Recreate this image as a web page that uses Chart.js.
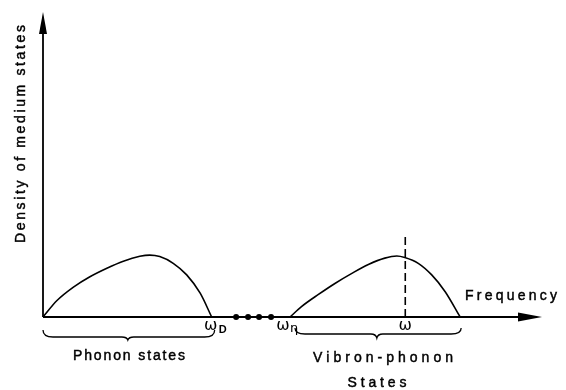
<!DOCTYPE html>
<html>
<head>
<meta charset="utf-8">
<script src="https://cdn.jsdelivr.net/npm/chart.js@4.4.1/dist/chart.umd.min.js"></script>
<style>
  html, body { margin: 0; padding: 0; background: #fff; }
  canvas { display: block; }
</style>
</head>
<body>
<canvas id="canvas" width="566" height="390"></canvas>
<script>
// frequency (arbitrary units, 0..100) and density (0..100)
var phononFreq = [0, 2.8, 6.1, 9.4, 12.8, 16.1, 19.4, 21.4, 23.4, 26.1, 28.8, 31.5, 33.8];
var phononDens = [0, 5.4, 9.8, 13.2, 16.0, 18.3, 19.9, 20.3, 19.8, 17.6, 13.8, 7.8, 0];

var vibronFreq = [49.5, 51.8, 55.2, 58.5, 61.9, 65.2, 68.5, 70.9, 72.5, 75.2, 77.9, 80.6, 83.6];
var vibronDens = [0, 3.4, 7.4, 11.0, 14.3, 17.2, 19.3, 20.0, 19.5, 17.6, 13.8, 8.3, 0];

var omegaFreq = 72.6;          // dashed marker
var omegaTop = 26.6;
var gapDots = [38.7, 41.1, 43.3, 45.7];

var axisTitleX = 'Frequency';
var axisTitleY = 'Density of medium states';
var phononLabel = ['Phonon states'];
var vibronLabel = ['Vibron-phonon', 'States'];

// brace ranges [start, tip, end] along frequency
var phononBrace = [0, 17.0, 34.4];
var vibronBrace = [50.5, 66.9, 83.8];

function pts(xs, ys) {
  return xs.map(function (x, i) { return { x: x, y: ys[i] }; });
}

// draw text with the wide letter spacing of the original lettering
function spaced(ctx, text, cx, y, width) {
  var chars = text.split('');
  var w = chars.map(function (c) { return ctx.measureText(c).width; });
  var sum = w.reduce(function (a, b) { return a + b; }, 0);
  var gap = chars.length > 1 ? (width - sum) / (chars.length - 1) : 0;
  var x = cx - width / 2;
  ctx.textAlign = 'left';
  for (var i = 0; i < chars.length; i++) {
    ctx.fillText(chars[i], x, y);
    ctx.strokeText(chars[i], x, y);
    x += w[i] + gap;
  }
}

function brace(ctx, x1, xt, x2, yTop, yLine, yTip) {
  var r = 5;
  ctx.beginPath();
  ctx.moveTo(x1, yTop);
  ctx.quadraticCurveTo(x1, yLine, x1 + r * 2, yLine);
  ctx.lineTo(xt - 6, yLine);
  ctx.quadraticCurveTo(xt - 1, yLine, xt, yTip);
  ctx.quadraticCurveTo(xt + 1, yLine, xt + 6, yLine);
  ctx.lineTo(x2 - r * 2, yLine);
  ctx.quadraticCurveTo(x2, yLine, x2, yTop);
  ctx.stroke();
}

var decor = {
  id: 'decor',
  beforeDatasetsDraw: function (chart) {
    var ctx = chart.ctx;
    var xs = chart.scales.x, ys = chart.scales.y;
    var x0 = xs.getPixelForValue(0), y0 = ys.getPixelForValue(0);
    var yMax = ys.getPixelForValue(100), xMax = xs.getPixelForValue(100);
    ctx.save();
    ctx.strokeStyle = '#000';
    ctx.fillStyle = '#000';
    ctx.lineWidth = 1.8;
    // axes
    ctx.beginPath();
    ctx.moveTo(x0, y0);
    ctx.lineTo(x0, yMax + 18);
    ctx.moveTo(x0, y0);
    ctx.lineTo(xMax - 20, y0);
    ctx.stroke();
    ctx.beginPath();
    ctx.moveTo(x0, yMax);
    ctx.lineTo(x0 - 4, yMax + 22);
    ctx.lineTo(x0 + 4, yMax + 22);
    ctx.closePath();
    ctx.fill();
    ctx.beginPath();
    ctx.moveTo(xMax, y0);
    ctx.lineTo(xMax - 24, y0 - 4.5);
    ctx.lineTo(xMax - 24, y0 + 4.5);
    ctx.closePath();
    ctx.fill();
    ctx.restore();
  },
  afterDraw: function (chart) {
    var ctx = chart.ctx;
    var xs = chart.scales.x, ys = chart.scales.y;
    var y0 = ys.getPixelForValue(0);
    var px = function (v) { return xs.getPixelForValue(v); };
    ctx.save();
    ctx.fillStyle = '#000';
    ctx.strokeStyle = '#000';
    ctx.textBaseline = 'alphabetic';

    // braces
    ctx.lineWidth = 1.3;
    brace(ctx, px(phononBrace[0]), px(phononBrace[1]), px(phononBrace[2]), y0 + 13, y0 + 20, y0 + 23);
    brace(ctx, px(vibronBrace[0]), px(vibronBrace[1]), px(vibronBrace[2]), y0 + 11, y0 + 17, y0 + 21);

    // axis titles and region labels
    ctx.lineWidth = 0.45;
    ctx.font = '14px "Liberation Sans", Arial, sans-serif';
    spaced(ctx, axisTitleX, 511, y0 - 17, 92);
    spaced(ctx, phononLabel[0], 129, y0 + 43, 112);
    spaced(ctx, vibronLabel[0], 383, y0 + 45, 140);
    spaced(ctx, vibronLabel[1], 377, y0 + 70, 59);

    ctx.save();
    ctx.translate(25, 134);
    ctx.rotate(-Math.PI / 2);
    spaced(ctx, axisTitleY, 0, 0, 218);
    ctx.restore();

    // omega labels
    ctx.textAlign = 'center';
    ctx.font = '16px "DejaVu Sans", sans-serif';
    ctx.fillText('\u03c9', px(phononFreq[phononFreq.length - 1]) - 1, y0 + 13);
    ctx.fillText('\u03c9', px(vibronFreq[0]) - 7, y0 + 13);
    ctx.fillText('\u03c9', px(omegaFreq), y0 + 13);
    ctx.font = 'bold 11px "Liberation Sans", Arial, sans-serif';
    ctx.fillText('D', px(phononFreq[phononFreq.length - 1]) + 11, y0 + 16);
    ctx.font = '13px "DejaVu Sans", sans-serif';
    ctx.fillText('\u03b7', px(vibronFreq[0]) + 4, y0 + 15);
    ctx.restore();
  }
};

var ctx = document.getElementById('canvas').getContext('2d');
new Chart(ctx, {
  type: 'scatter',
  data: {
    datasets: [
      { data: pts(phononFreq, phononDens), showLine: true, borderColor: '#000', borderWidth: 1.6,
        pointRadius: 0, cubicInterpolationMode: 'monotone', clip: false },
      { data: pts(vibronFreq, vibronDens), showLine: true, borderColor: '#000', borderWidth: 1.6,
        pointRadius: 0, cubicInterpolationMode: 'monotone', clip: false },
      { data: [{ x: omegaFreq, y: 0 }, { x: omegaFreq, y: omegaTop }], showLine: true,
        borderColor: '#000', borderWidth: 1.6, borderDash: [8, 4], pointRadius: 0, clip: false },
      { data: gapDots.map(function (x) { return { x: x, y: 0 }; }), showLine: false,
        pointRadius: 3, pointBackgroundColor: '#000', pointBorderWidth: 0, clip: false }
    ]
  },
  options: {
    responsive: false,
    animation: false,
    layout: { padding: { left: 43, top: 12, right: 24, bottom: 73 } },
    plugins: { legend: { display: false }, tooltip: { enabled: false } },
    scales: {
      x: { type: 'linear', min: 0, max: 100, display: false },
      y: { type: 'linear', min: 0, max: 100, display: false }
    }
  },
  plugins: [decor]
});
</script>
</body>
</html>
